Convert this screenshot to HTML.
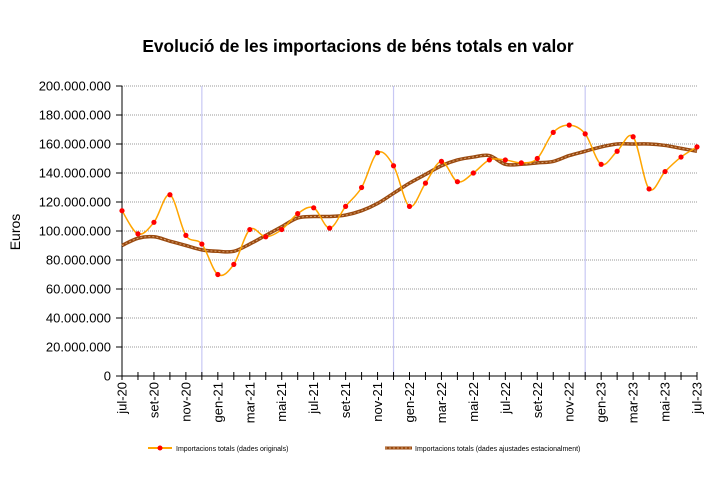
<!DOCTYPE html>
<html><head><meta charset="utf-8"><style>
body{margin:0;background:#fff;width:723px;height:479px;overflow:hidden;font-family:"Liberation Sans",sans-serif}
</style></head><body>
<svg id="c" width="723" height="479" xmlns="http://www.w3.org/2000/svg">
<text x="358" y="52" text-anchor="middle" font-size="17.3" font-weight="bold" font-family="Liberation Sans">Evolució de les importacions de béns totals en valor</text>
<text x="0" y="0" transform="translate(20,232) rotate(-90)" text-anchor="middle" font-size="14">Euros</text>
<g id="grid"></g><g id="axes"></g><g id="series"></g>
<g>
<g>
<line x1="148" y1="448" x2="172" y2="448" stroke="#ffa500" stroke-width="2"/>
<circle cx="160" cy="448" r="2.5" fill="#f00"/>
<text x="176" y="451" font-size="7">Importacions totals (dades originals)</text></g>
<g>
<line x1="385" y1="448" x2="412" y2="448" stroke="#9a4a10" stroke-width="3"/>
<line x1="385" y1="448" x2="412" y2="448" stroke="#d6a070" stroke-width="1" stroke-dasharray="2,2"/>
<text x="415" y="451" font-size="7">Importacions totals (dades ajustades estacionalment)</text></g>
</g>
</svg>
<script>
const months=["jul-20","ago-20","set-20","oct-20","nov-20","des-20","gen-21","feb-21","mar-21","abr-21","mai-21","jun-21","jul-21","ago-21","set-21","oct-21","nov-21","des-21","gen-22","feb-22","mar-22","abr-22","mai-22","jun-22","jul-22","ago-22","set-22","oct-22","nov-22","des-22","gen-23","feb-23","mar-23","abr-23","mai-23","jun-23","jul-23"];
const original=[114,98,106,125,97,91,70,77,101,96,101,112,116,102,117,130,154,145,117,133,148,134,140,149,149,147,150,168,173,167,146,155,165,129,141,151,158];
const adjusted=[90,95,96,93,90,87,86,86,91,97,103,109,110,110,111,114,119,126,133,139,145,149,151,152,146,146,147,148,152,155,158,160,160,160,159,157,155];
const yTicks=[0,20,40,60,80,100,120,140,160,180,200];
const yLabels=["0","20.000.000","40.000.000","60.000.000","80.000.000","100.000.000","120.000.000","140.000.000","160.000.000","180.000.000","200.000.000"];
const NS="http://www.w3.org/2000/svg";
const X0=122,X1=697,Y0=376,Y1=86;
const x=i=>X0+(X1-X0)*i/(months.length-1);
const y=v=>Y0-(Y0-Y1)*v/200;
function mk(t,a,p){const e=document.createElementNS(NS,t);for(const k in a)e.setAttribute(k,a[k]);p.appendChild(e);return e;}
const grid=document.getElementById('grid'),axes=document.getElementById('axes'),ser=document.getElementById('series');
yTicks.forEach((v,i)=>{
 if(v>0){const g=mk('line',{x1:X0,x2:X1,y1:y(v),y2:y(v),stroke:'#999','stroke-dasharray':'1,1'},grid);
 
 }
 mk('line',{x1:X0-6,x2:X0,y1:y(v),y2:y(v),stroke:'#000'},axes);
 const t=mk('text',{x:X0-11,y:y(v)+4.5,'text-anchor':'end','font-size':'13'},axes);t.textContent=yLabels[i];
 
 
});
[5,17,29].forEach(i=>{const l=mk('line',{x1:x(i),x2:x(i),y1:Y1,y2:Y0,stroke:'#c8c8f4','stroke-width':1.2},grid);
 
 });
mk('line',{x1:X0,x2:X0,y1:Y1,y2:Y0,stroke:'#000'},axes);
mk('line',{x1:X0,x2:X1,y1:Y0,y2:Y0,stroke:'#000'},axes);
months.forEach((m,i)=>{
 mk('line',{x1:x(i),x2:x(i),y1:Y0-4,y2:Y0+4,stroke:'#000'},axes);
 if(i%2==0){const t=mk('text',{transform:`translate(${x(i)+4.5},${Y0+6}) rotate(-90)`,'text-anchor':'end','font-size':'13'},axes);t.textContent=m;
 
 }
});
function smooth(arr){const p=arr.map((v,i)=>[x(i),y(v)]);let d=`M${p[0][0]},${p[0][1]}`;
 for(let i=0;i<p.length-1;i++){const p0=p[Math.max(i-1,0)],p1=p[i],p2=p[i+1],p3=p[Math.min(i+2,p.length-1)];
 d+=` C${p1[0]+(p2[0]-p0[0])/6},${p1[1]+(p2[1]-p0[1])/6} ${p2[0]-(p3[0]-p1[0])/6},${p2[1]-(p3[1]-p1[1])/6} ${p2[0]},${p2[1]}`;}return d;}
const a1=mk('path',{d:smooth(adjusted),fill:'none',stroke:'#9a4a10','stroke-width':3.5},ser);


mk('path',{d:smooth(adjusted),fill:'none',stroke:'#d6a070','stroke-width':1,'stroke-dasharray':'2,2'},ser);
const o1=mk('path',{d:smooth(original),fill:'none',stroke:'#ffa500','stroke-width':1.5},ser);


original.forEach((v,i)=>{const c=mk('circle',{cx:x(i),cy:y(v),r:2.6,fill:'#f00'},ser);
 
 });
</script>
</body></html>
